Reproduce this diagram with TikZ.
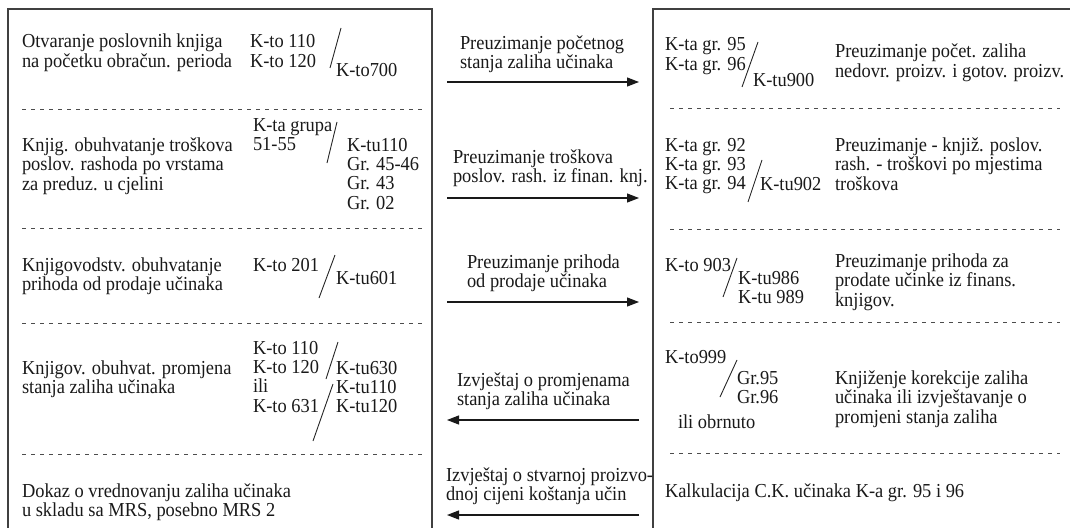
\documentclass[tikz,border=0pt]{standalone}
\usepackage{fontspec}
\setmainfont{Liberation Serif}[FakeStretch=0.93]
\usetikzlibrary{arrows.meta}
\newcommand\txtlines[1]{\begin{tabular}[t]{@{}l@{}}#1\end{tabular}}
\begin{document}
\begin{tikzpicture}[x=1pt,y=-1pt,
  txt/.style={anchor=base west,inner sep=0pt,outer sep=0pt,text=black!90,
    font=\fontsize{19.8}{19.4}\selectfont},
  frame/.style={line width=1.3pt,draw=black!75},
  sep/.style={line width=0.8pt,draw=black!70,dash pattern=on 4pt off 5pt},
  slash/.style={line width=0.9pt,draw=black!85},
  flow/.style={line width=1.1pt,draw=black!90,-{Triangle[length=12pt,width=9pt]}}]
\useasboundingbox (0,0) rectangle (1070,527);

% two open-bottom frames
\draw[frame] (8,530) -- (8,9) -- (432,9) -- (432,530);
\draw[frame] (653,530) -- (653,9) -- (1072,9);

% dotted row separators
\foreach \yy in {109,228,323,454} \draw[sep] (22,\yy) -- (422,\yy);
\foreach \yy in {108,229,322,453} \draw[sep] (670,\yy) -- (1060,\yy);

% ---------- financial accounting (left) ----------
\node[txt] (l1) at (22,48) {\txtlines{Otvaranje poslovnih knjiga\\na početku obračun. perioda}};
\node[txt] (l1d) at (250,48) {\txtlines{K-to 110\\K-to 120}};
\node[txt] (l1c) at (336,77) {K-to700};
\coordinate (s1a) at (341,28); \coordinate (s1b) at (330,68);
\draw[slash] (s1a) -- (s1b);

\node[txt] (l2) at (22,151) {\txtlines{Knjig. obuhvatanje troškova\\poslov. rashoda po vrstama\\za preduz. u cjelini}};
\node[txt] (l2d) at (253,131) {\txtlines{K-ta grupa\\51-55}};
\node[txt] (l2c) at (347,151) {\txtlines{K-tu110\\Gr. 45-46\\Gr. 43\\Gr. 02}};
\coordinate (s2a) at (337,122); \coordinate (s2b) at (327,163);
\draw[slash] (s2a) -- (s2b);

\node[txt] (l3) at (22,271) {\txtlines{Knjigovodstv. obuhvatanje\\prihoda od prodaje učinaka}};
\node[txt] (l3d) at (253,271) {K-to 201};
\node[txt] (l3c) at (336,284) {K-tu601};
\coordinate (s3a) at (335,255); \coordinate (s3b) at (319,298);
\draw[slash] (s3a) -- (s3b);

\node[txt] (l4) at (22,374) {\txtlines{Knjigov. obuhvat. promjena\\stanja zaliha učinaka}};
\node[txt] (l4d) at (253,354) {\txtlines{K-to 110\\K-to 120\\ili\\K-to 631}};
\node[txt] (l4c) at (336,374) {\txtlines{K-tu630\\K-tu110\\K-tu120}};
\coordinate (s4a) at (338,342); \coordinate (s4b) at (326,379);
\coordinate (s4c) at (333,384); \coordinate (s4d) at (313,441);
\draw[slash] (s4a) -- (s4b);
\draw[slash] (s4c) -- (s4d);

\node[txt] (l5) at (22,497) {\txtlines{Dokaz o vrednovanju zaliha učinaka\\u skladu sa MRS, posebno MRS 2}};

% ---------- flows between the two ledgers ----------
\node[txt] (m1) at (460,49) {\txtlines{Preuzimanje početnog\\stanja zaliha učinaka}};
\coordinate (a1l) at (447,82); \coordinate (a1r) at (639,82);
\draw[flow] (a1l) -- (a1r);

\node[txt] (m2) at (453,163) {\txtlines{Preuzimanje troškova\\poslov. rash. iz finan. knj.}};
\coordinate (a2l) at (447,198); \coordinate (a2r) at (639,198);
\draw[flow] (a2l) -- (a2r);

\node[txt] (m3) at (467,268) {\txtlines{Preuzimanje prihoda\\od prodaje učinaka}};
\coordinate (a3l) at (447,302); \coordinate (a3r) at (639,302);
\draw[flow] (a3l) -- (a3r);

\node[txt] (m4) at (457,386) {\txtlines{Izvještaj o promjenama\\stanja zaliha učinaka}};
\coordinate (a4l) at (447,420); \coordinate (a4r) at (639,420);
\draw[flow] (a4r) -- (a4l);

\node[txt] (m5) at (446,481) {\txtlines{Izvještaj o stvarnoj proizvo-\\dnoj cijeni koštanja učin}};
\coordinate (a5l) at (447,515); \coordinate (a5r) at (639,515);
\draw[flow] (a5r) -- (a5l);

% ---------- cost accounting (right) ----------
\node[txt] (r1d) at (665,51) {\txtlines{K-ta gr. 95\\K-ta gr. 96}};
\node[txt] (r1c) at (753,86) {K-tu900};
\coordinate (t1a) at (758,42); \coordinate (t1b) at (742,87);
\draw[slash] (t1a) -- (t1b);
\node[txt] (r1) at (835,58) {\txtlines{Preuzimanje počet. zaliha\\nedovr. proizv. i gotov. proizv.}};

\node[txt] (r2d) at (665,151) {\txtlines{K-ta gr. 92\\K-ta gr. 93\\K-ta gr. 94}};
\node[txt] (r2c) at (760,190) {K-tu902};
\coordinate (t2a) at (762,160); \coordinate (t2b) at (748,202);
\draw[slash] (t2a) -- (t2b);
\node[txt] (r2) at (835,151) {\txtlines{Preuzimanje - knjiž. poslov.\\rash. - troškovi po mjestima\\troškova}};

\node[txt] (r3d) at (665,271) {K-to 903};
\node[txt] (r3c) at (738,284) {\txtlines{K-tu986\\K-tu 989}};
\coordinate (t3a) at (737,258); \coordinate (t3b) at (723,297);
\draw[slash] (t3a) -- (t3b);
\node[txt] (r3) at (835,267) {\txtlines{Preuzimanje prihoda za\\prodate učinke iz finans.\\knjigov.}};

\node[txt] (r4d) at (665,363) {K-to999};
\node[txt] (r4c) at (737,384) {\txtlines{Gr.95\\Gr.96}};
\node[txt] (r4o) at (678,428) {ili obrnuto};
\coordinate (t4a) at (737,360); \coordinate (t4b) at (720,397);
\draw[slash] (t4a) -- (t4b);
\node[txt] (r4) at (835,384) {\txtlines{Knjiženje korekcije zaliha\\učinaka ili izvještavanje o\\promjeni stanja zaliha}};

\node[txt] (r5) at (665,497) {Kalkulacija C.K. učinaka K-a gr. 95 i 96};
\end{tikzpicture}
\end{document}
